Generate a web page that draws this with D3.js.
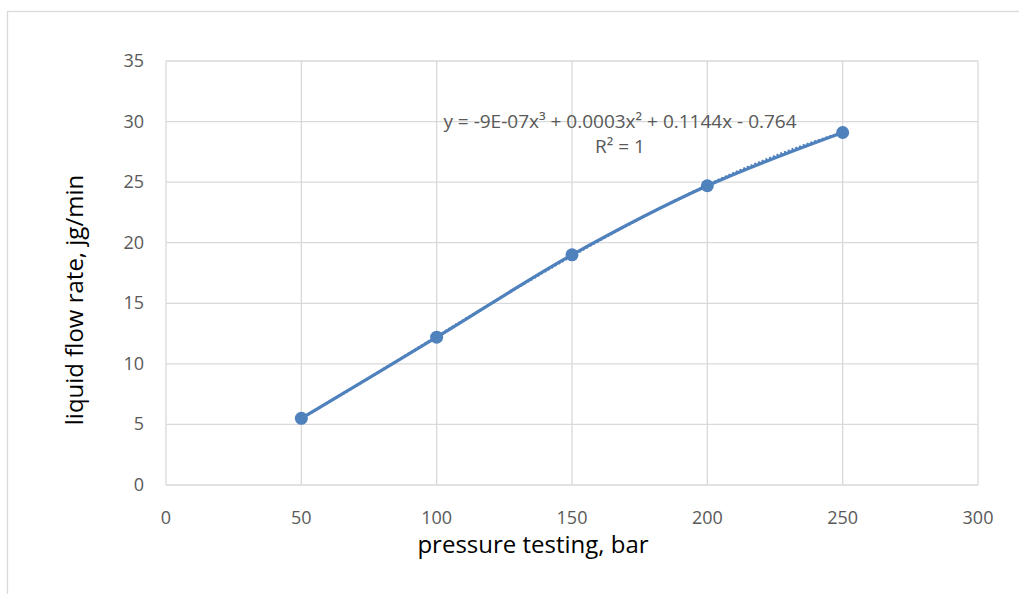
<!DOCTYPE html>
<html lang="en">
<head>
  <meta charset="UTF-8">
  <title>Liquid flow rate vs pressure</title>
  <script src="https://d3js.org/d3.v7.min.js"></script>
  <style>
    body { margin: 0; background: #fff; font-family: "Open Sans", "Noto Sans", sans-serif; }
    svg { display: block; }
    .grid line { stroke: #d9d9d9; stroke-width: 1.3; }
    .tick-label { fill: #595959; font-size: 18px; }
    .axis-title { fill: #000; font-size: 24px; }
    .trend-label { fill: #595959; font-size: 19px; }
  </style>
</head>
<body>
  <svg id="chart"></svg>
  <script>
    // data
    const pressure = [50, 100, 150, 200, 250];
    const flowRate = [5.5, 12.2, 19.0, 24.7, 29.1];
    const xTicks = [0, 50, 100, 150, 200, 250, 300];
    const yTicks = [0, 5, 10, 15, 20, 25, 30, 35];
    const equationText = "y = -9E-07x³ + 0.0003x² + 0.1144x - 0.764";
    const r2Text = "R² = 1";

    const width = 1019, height = 594;
    const margin = { left: 166, top: 61, right: 41, bottom: 109 };
    const blue = "#4f81bd";

    const svg = d3.select("#chart").attr("width", width).attr("height", height);

    // outer chart border
    svg.append("rect")
      .attr("x", 7.5).attr("y", 11.5)
      .attr("width", width).attr("height", height)
      .attr("fill", "none").attr("stroke", "#d9d9d9").attr("stroke-width", 1.3);

    const x = d3.scaleLinear().domain([0, 300]).range([margin.left, width - margin.right]);
    const y = d3.scaleLinear().domain([0, 35]).range([height - margin.bottom, margin.top]);

    // gridlines
    const grid = svg.append("g").attr("class", "grid");
    grid.selectAll(".gx").data(xTicks).enter().append("line")
      .attr("x1", d => x(d)).attr("x2", d => x(d))
      .attr("y1", y(0)).attr("y2", y(35));
    grid.selectAll(".gy").data(yTicks).enter().append("line")
      .attr("x1", x(0)).attr("x2", x(300))
      .attr("y1", d => y(d)).attr("y2", d => y(d));

    // tick labels
    svg.selectAll(".xl").data(xTicks).enter().append("text")
      .attr("class", "tick-label")
      .attr("x", d => x(d)).attr("y", y(0) + 39)
      .attr("text-anchor", "middle")
      .text(d => d);
    svg.selectAll(".yl").data(yTicks).enter().append("text")
      .attr("class", "tick-label")
      .attr("x", x(0) - 22).attr("y", d => y(d) + 6)
      .attr("text-anchor", "end")
      .text(d => d);

    // axis titles
    svg.append("text").attr("class", "axis-title")
      .attr("x", 533).attr("y", 553)
      .attr("text-anchor", "middle")
      .text("pressure testing, bar");
    svg.append("text").attr("class", "axis-title")
      .attr("transform", `translate(83, ${(y(0) + y(35)) / 2 + 27}) rotate(-90)`)
      .attr("text-anchor", "middle")
      .text("liquid flow rate, jg/min");

    const points = pressure.map((p, i) => [p, flowRate[i]]);

    // cubic least-squares trendline fitted to the points
    function polyFit(xs, ys, deg) {
      const n = deg + 1;
      const A = Array.from({ length: n }, () => new Array(n + 1).fill(0));
      for (let r = 0; r < n; r++) {
        for (let c = 0; c < n; c++) A[r][c] = d3.sum(xs, v => Math.pow(v, r + c));
        A[r][n] = d3.sum(xs, (v, i) => ys[i] * Math.pow(v, r));
      }
      for (let i = 0; i < n; i++) {
        let m = i;
        for (let k = i + 1; k < n; k++) if (Math.abs(A[k][i]) > Math.abs(A[m][i])) m = k;
        [A[i], A[m]] = [A[m], A[i]];
        for (let k = 0; k < n; k++) {
          if (k === i) continue;
          const f = A[k][i] / A[i][i];
          for (let j = i; j <= n; j++) A[k][j] -= f * A[i][j];
        }
      }
      return A.map((row, i) => row[n] / row[i]);
    }
    const xs = pressure.map(p => p / 100);
    const coef = polyFit(xs, flowRate, 3);
    const trendPts = d3.range(50, 250.1, 2).map(p =>
      [p, coef.reduce((s, c, i) => s + c * Math.pow(p / 100, i), 0)]);

    const line = d3.line().x(d => x(d[0])).y(d => y(d[1]));

    svg.append("path")
      .attr("d", line(trendPts))
      .attr("fill", "none").attr("stroke", blue)
      .attr("stroke-width", 2.5).attr("stroke-dasharray", "2,2");

    svg.append("path")
      .attr("d", line.curve(d3.curveCatmullRom)(points))
      .attr("fill", "none").attr("stroke", blue)
      .attr("stroke-width", 3.2);

    svg.selectAll(".dot").data(points).enter().append("circle")
      .attr("cx", d => x(d[0])).attr("cy", d => y(d[1]))
      .attr("r", 6.5).attr("fill", blue);

    // trendline label
    const label = svg.append("text").attr("class", "trend-label").attr("text-anchor", "middle");
    label.append("tspan").attr("x", 620).attr("y", 128).text(equationText);
    label.append("tspan").attr("x", 620).attr("y", 153).text(r2Text);
  </script>
</body>
</html>
